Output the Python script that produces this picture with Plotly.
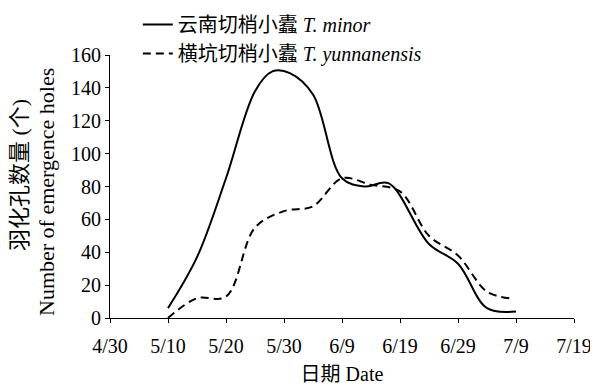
import plotly.graph_objects as go

# Days since 4/30
tick_vals = [0, 10, 20, 30, 40, 50, 60, 70, 80]
tick_text = ["4/30", "5/10", "5/20", "5/30", "6/9", "6/19", "6/29", "7/9", "7/19"]

minor_days = [10, 15, 20, 25, 28, 31, 35, 40, 44, 48, 55, 60, 65, 70]
minor_vals = [6, 37, 85, 138, 150, 149, 136, 85, 80, 82, 45, 33, 6, 4]
yunnan_days = [10, 15, 20, 25, 30, 35, 40, 45, 50, 55, 60, 65, 69]
yunnan_vals = [0, 12, 13, 55, 65, 68, 85, 81, 77, 50, 38, 16, 12]

name_minor = "云南切梢小蠹 <i>T. minor</i>"
name_yunnan = "横坑切梢小蠹 <i>T. yunnanensis</i>"

fig = go.Figure()
fig.add_trace(go.Scatter(x=minor_days, y=minor_vals, mode="lines", name=name_minor,
                         line=dict(color="black", width=2, shape="spline", smoothing=1.0)))
fig.add_trace(go.Scatter(x=yunnan_days, y=yunnan_vals, mode="lines", name=name_yunnan,
                         line=dict(color="black", width=2, dash="8px,5px", shape="spline", smoothing=1.0)))

font_main = "'Times New Roman', 'Liberation Serif', 'Noto Sans CJK SC', serif"

fig.update_layout(
    width=590, height=377,
    margin=dict(l=102, r=24, t=47, b=67, autoexpand=False),
    plot_bgcolor="white", paper_bgcolor="white",
    font=dict(family=font_main, size=20, color="black"),
    showlegend=True,
    legend=dict(x=0.06, y=1.19, xanchor="left", yanchor="top",
                bgcolor="rgba(0,0,0,0)", font=dict(size=20, family=font_main),
                tracegroupgap=0, itemwidth=30),
    xaxis=dict(range=[0, 80], tickvals=tick_vals, ticktext=tick_text,
               showgrid=False, zeroline=False, showline=True, linecolor="black", linewidth=1,
               ticks="outside", ticklen=4, tickcolor="black", ticklabelstandoff=6,
               tickfont=dict(size=20, family=font_main),
               title=dict(text="日期 Date", font=dict(size=20, family=font_main), standoff=10)),
    yaxis=dict(range=[0, 160], tickvals=[0, 20, 40, 60, 80, 100, 120, 140, 160],
               showgrid=False, zeroline=False, showline=True, linecolor="black", linewidth=1,
               ticks="outside", ticklen=4, tickcolor="black",
               tickfont=dict(size=20, family=font_main)),
)

# plot area: x 102..566 (464 px), y 47..310 (263 px) in figure coords
fig.add_annotation(text="羽化孔数量 (个)", xref="paper", yref="paper",
                   x=(11 - 102) / 464, y=(310 - 167) / 263,
                   xanchor="center", yanchor="middle",
                   textangle=-90, showarrow=False, font=dict(size=22, family=font_main))
fig.add_annotation(text="Number of emergence holes", xref="paper", yref="paper",
                   x=(38 - 102) / 464, y=(310 - 184) / 263,
                   xanchor="center", yanchor="middle",
                   textangle=-90, showarrow=False, font=dict(size=22, family=font_main))

fig.write_html("out.html")
